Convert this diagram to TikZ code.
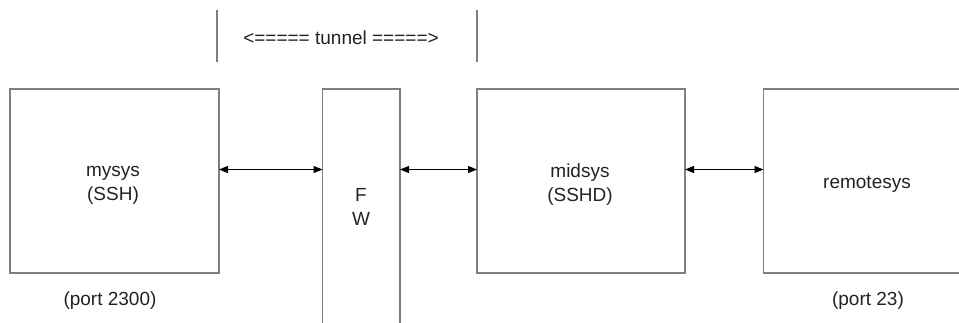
\documentclass[tikz,border=0pt]{standalone}
\usepackage{fontspec}
\setmainfont{Liberation Sans}
\usetikzlibrary{arrows.meta}
\definecolor{boxgray}{HTML}{7F7F7F}
\definecolor{txtgray}{HTML}{222222}
\begin{document}
\begin{tikzpicture}[x=1pt,y=-1pt,
  sysbox/.style={draw=boxgray,line width=1.4pt,fill=none},
  lbl/.style={text=txtgray,font=\fontsize{19}{24}\selectfont,align=center,inner sep=0pt},
  link/.style={draw=black,line width=0.9pt,{Triangle[length=9pt,width=7pt]}-{Triangle[length=9pt,width=7pt]}},
  tunline/.style={draw=boxgray,line width=1.4pt}]
\useasboundingbox (0,0) rectangle (959,322);
% boxes
\draw[sysbox] (10,89) rectangle (219,273);
\draw[sysbox] (322.5,89) rectangle (400,330);
\draw[sysbox] (477,89) rectangle (685,273);
\draw[sysbox] (763.5,89) rectangle (975,273);
% anchor coordinates on box edges
\coordinate (myR) at (219,169.5);
\coordinate (fwL) at (322.5,169.5);
\coordinate (fwR) at (400,169.5);
\coordinate (midL) at (477,169.5);
\coordinate (midR) at (685,169.5);
\coordinate (remL) at (763.5,169.5);
% labels
\node[lbl] (mysys) at (113,185) {mysys\\(SSH)};
\node[lbl] (fw) at (361,207) {F\\W};
\node[lbl] (midsys) at (580,185) {midsys\\(SSHD)};
\node[lbl] (remote) at (867,184) {remotesys};
\node[lbl] (p2300) at (110,301) {(port 2300)};
\node[lbl] (p23) at (868,301) {(port 23)};
\node[lbl] (tunnel) at (341,38) {<===== tunnel =====>};
% tunnel markers
\coordinate (t1a) at (217,10);
\coordinate (t1b) at (217,62);
\coordinate (t2a) at (477,10);
\coordinate (t2b) at (477,62);
\draw[tunline] (t1a) -- (t1b);
\draw[tunline] (t2a) -- (t2b);
% connectors
\draw[link] (myR) -- (fwL);
\draw[link] (fwR) -- (midL);
\draw[link] (midR) -- (remL);
\end{tikzpicture}
\end{document}
